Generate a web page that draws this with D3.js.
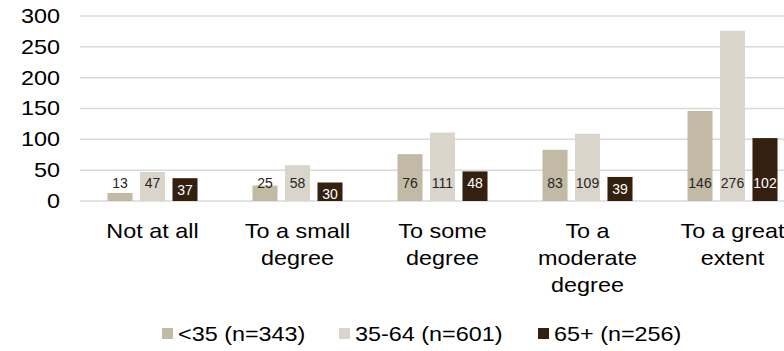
<!DOCTYPE html>
<html>
<head>
<meta charset="utf-8">
<script src="https://cdn.jsdelivr.net/npm/d3@7"></script>
<style>
  html, body { margin: 0; padding: 0; background: #fff; }
  svg { display: block; font-family: "Liberation Sans", Arial, sans-serif; }
</style>
</head>
<body>
<svg id="chart" width="784" height="351"></svg>
<script>
// Responses by age group
const categories = [
  ["Not at all"],
  ["To a small", "degree"],
  ["To some", "degree"],
  ["To a", "moderate", "degree"],
  ["To a great", "extent"]
];
const seriesNames = ["<35 (n=343)", "35-64 (n=601)", "65+ (n=256)"];
const under35 = [13, 25, 76, 83, 146];
const age35to64 = [47, 58, 111, 109, 276];
const over65 = [37, 30, 48, 39, 102];
const yTicks = [0, 50, 100, 150, 200, 250, 300];
const colors = ["#c3baa6", "#d9d5cb", "#33200f"];

const seriesValues = [under35, age35to64, over65];
const svg = d3.select("#chart");
const W = 784;
const WIDE = 1.17; // horizontal widening of axis and legend text

const x0 = d3.scaleBand()
  .domain(d3.range(categories.length))
  .range([80, 805])
  .paddingInner(0)
  .paddingOuter(0);

const x1 = d3.scaleBand()
  .domain(d3.range(seriesNames.length))
  .range([0, x0.bandwidth()])
  .paddingInner(0.23)
  .paddingOuter(0.846);

const y = d3.scaleLinear().domain([0, 300]).range([201, 16]);

// gridlines
svg.append("g")
  .selectAll("line")
  .data(yTicks)
  .join("line")
  .attr("x1", 80).attr("x2", W)
  .attr("y1", d => y(d)).attr("y2", d => y(d))
  .attr("stroke", "#d9d9d9")
  .attr("stroke-width", 1.5);

// y axis labels
const yAxis = d3.axisLeft(y).tickValues(yTicks).tickSize(0).tickPadding(0);
const ga = svg.append("g").attr("transform", "translate(60,0)").call(yAxis);
ga.select(".domain").remove();
ga.selectAll("text")
  .attr("x", 0)
  .attr("transform", `scale(${WIDE},1)`)
  .attr("font-size", 20)
  .attr("font-family", "Liberation Sans, Arial, sans-serif")
  .attr("fill", "#000");

// bars
const groups = svg.append("g")
  .selectAll("g")
  .data(categories.map((c, i) => i))
  .join("g")
  .attr("transform", i => `translate(${x0(i)},0)`);

groups.selectAll("rect")
  .data(i => seriesValues.map((vals, s) => ({ s, v: vals[i] })))
  .join("rect")
  .attr("x", d => x1(d.s))
  .attr("width", x1.bandwidth())
  .attr("y", d => y(d.v))
  .attr("height", d => y(0) - y(d.v))
  .attr("fill", d => colors[d.s]);

// value labels
groups.selectAll("text.val")
  .data(i => seriesValues.map((vals, s) => ({ s, v: vals[i] })))
  .join("text")
  .attr("class", "val")
  .attr("x", d => x1(d.s) + x1.bandwidth() / 2)
  .attr("y", d => d.s === 2 ? Math.max(y(0) - 18, y(d.v) + 12) : y(0) - 18)
  .attr("dy", "0.35em")
  .attr("text-anchor", "middle")
  .attr("font-size", 14)
  .attr("fill", d => d.s === 2 ? "#fff" : "#262626")
  .text(d => d.v);

// category labels
const catG = svg.append("g");
categories.forEach((lines, i) => {
  const cx = x0(i) + x0.bandwidth() / 2;
  const t = catG.append("text")
    .attr("transform", `translate(${cx},238) scale(${WIDE},1)`)
    .attr("text-anchor", "middle")
    .attr("font-size", 20)
    .attr("fill", "#000");
  lines.forEach((ln, k) => {
    t.append("tspan")
      .attr("x", 0)
      .attr("dy", k === 0 ? 0 : 27)
      .text(ln);
  });
});

// legend
const legendX = [162, 339, 538];
const leg = svg.append("g");
seriesNames.forEach((name, s) => {
  leg.append("rect")
    .attr("x", legendX[s]).attr("y", 328)
    .attr("width", 11).attr("height", 11)
    .attr("fill", colors[s]);
  leg.append("text")
    .attr("transform", `translate(${legendX[s] + 16},341) scale(${WIDE},1)`)
    .attr("font-size", 20)
    .attr("fill", "#000")
    .text(name);
});
</script>
</body>
</html>
